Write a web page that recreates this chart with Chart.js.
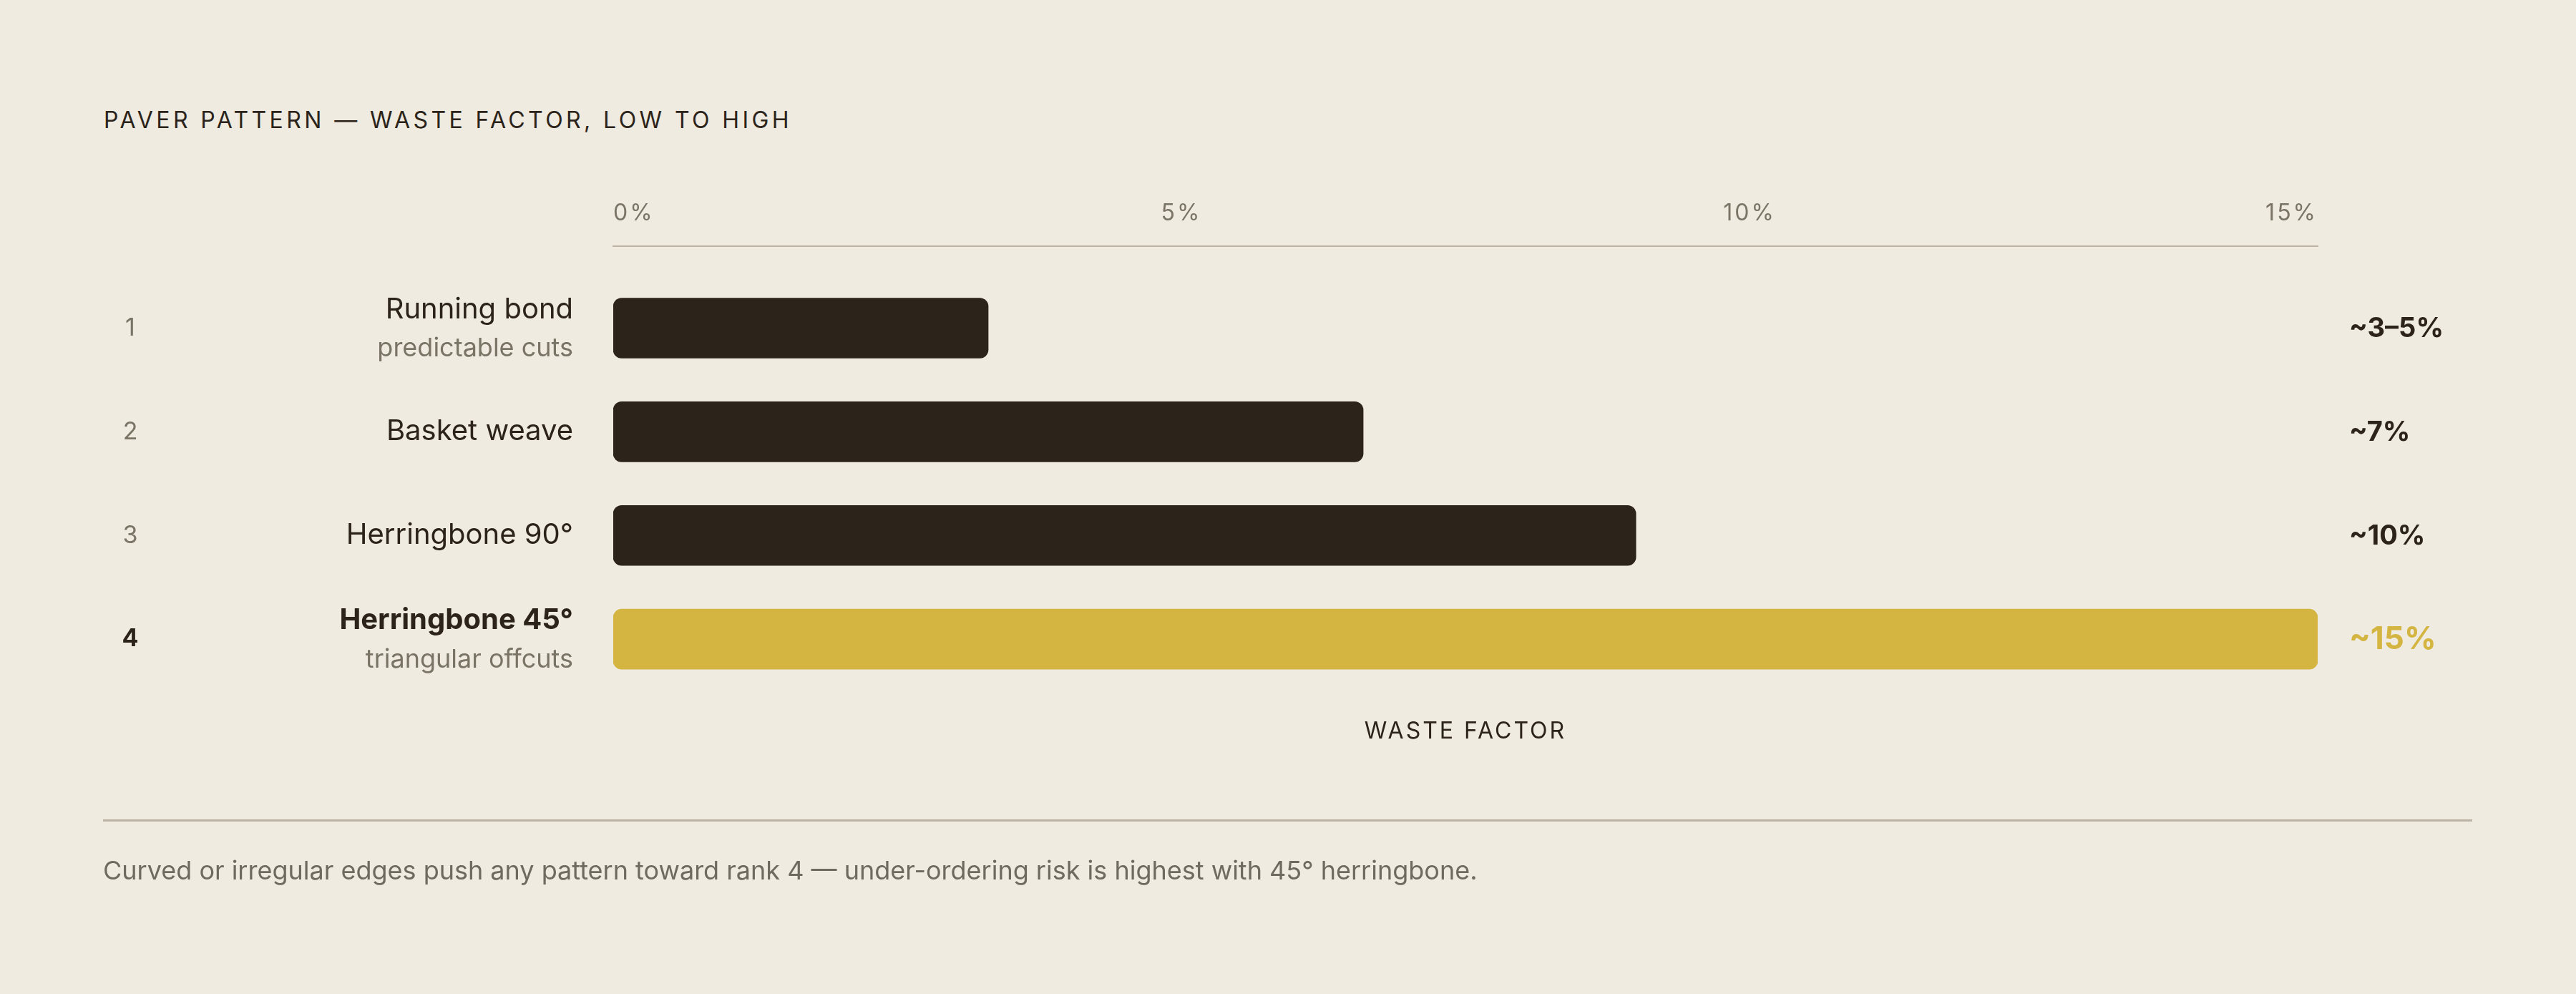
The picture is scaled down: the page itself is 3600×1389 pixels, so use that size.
<!DOCTYPE html>
<html>
<head>
<meta charset="utf-8">
<script src="https://cdn.jsdelivr.net/npm/chart.js@4.4.1/dist/chart.umd.min.js"></script>
<style>
  html, body { margin: 0; padding: 0; background: #efebe0; }
  body { width: 3600px; height: 1389px; position: relative; overflow: hidden; font-family: Inter, "Noto Sans", sans-serif; }
  #title { position: absolute; left: 145px; top: 152px; font-size: 32px; line-height: 32px; letter-spacing: 4.4px; color: #2c241a; white-space: nowrap; }
  #rule { position: absolute; left: 144px; top: 1145px; width: 3311px; height: 3px; background: #bcb3a5; }
  #note { position: absolute; left: 144px; top: 1198px; font-size: 36px; line-height: 36px; color: #6f6a5f; white-space: nowrap; }
  #chart { position: absolute; left: 0; top: 0; }
</style>
</head>
<body>
<div id="title">PAVER PATTERN — WASTE FACTOR, LOW TO HIGH</div>
<canvas id="chart" width="3600" height="1389"></canvas>
<div id="rule"></div>
<div id="note">Curved or irregular edges push any pattern toward rank 4 — under-ordering risk is highest with 45° herringbone.</div>
<script>
// ---- data ----
const categories = ['Running bond', 'Basket weave', 'Herringbone 90°', 'Herringbone 45°'];
const notes = ['predictable cuts', '', '', 'triangular offcuts'];
const ranks = [1, 2, 3, 4];
const wasteValues = [3.3, 6.6, 9, 15];
const valueLabels = ['~3–5%', '~7%', '~10%', '~15%'];
const axisTicks = [0, 5, 10, 15];
const axisTitle = 'WASTE FACTOR';
const highlightRank = 4;

// ---- styles ----
const INK = '#2c241a';
const GOLD = '#d4b542';
const MUTED = '#7a7466';
const LINE = '#bcb3a5';
const FONT = 'Inter, "Noto Sans", sans-serif';

const rowLabels = {
  id: 'rowLabels',
  beforeDraw(chart) { chart.ctx.letterSpacing = '3px'; },
  afterDraw(chart) {
    const { ctx, chartArea, scales } = chart;
    const y = scales.y;
    ctx.save();
    ctx.letterSpacing = '0px';
    ctx.textBaseline = 'middle';
    categories.forEach((name, i) => {
      const cy = y.getPixelForValue(ranks[i]);
      const hi = ranks[i] === highlightRank;
      ctx.textAlign = 'center';
      ctx.font = (hi ? '700' : '400') + ' 34px ' + FONT;
      ctx.fillStyle = hi ? INK : MUTED;
      ctx.fillText(String(ranks[i]), 182, cy);
      ctx.textAlign = 'right';
      const lx = chartArea.left - 56;
      ctx.font = (hi ? '700' : '400') + ' 40px ' + FONT;
      ctx.fillStyle = INK;
      if (notes[i]) {
        ctx.fillText(name, lx, cy - 26);
        ctx.font = '400 36px ' + FONT;
        ctx.fillStyle = MUTED;
        ctx.fillText(notes[i], lx, cy + 29);
      } else {
        ctx.fillText(name, lx, cy);
      }
    });
    const meta = chart.getDatasetMeta(0);
    meta.data.forEach((bar, i) => {
      const hi = ranks[i] === highlightRank;
      ctx.textAlign = 'left';
      ctx.font = '700 ' + (hi ? 44 : 38) + 'px ' + FONT;
      ctx.fillStyle = hi ? GOLD : INK;
      ctx.fillText(valueLabels[i], chartArea.right + 44, bar.y + 1);
    });
    ctx.restore();
  }
};

function build() {
  new Chart(document.getElementById('chart'), {
    type: 'bar',
    data: {
      labels: categories,
      datasets: [{
        data: wasteValues.map((v, i) => ({ x: v, y: ranks[i] })),
        backgroundColor: (c) => ranks[c.dataIndex] === highlightRank ? GOLD : INK,
        borderRadius: 12,
        borderSkipped: false,
        barThickness: 84
      }]
    },
    options: {
      indexAxis: 'y',
      responsive: false,
      devicePixelRatio: 1,
      animation: false,
      events: [],
      layout: { padding: { left: 857, right: 361, top: 264, bottom: 339 } },
      plugins: { legend: { display: false }, tooltip: { enabled: false }, title: { display: false } },
      scales: {
        x: {
          type: 'linear', position: 'top', min: 0, max: 15,
          afterFit: (s) => { s.height = 80; },
          afterBuildTicks: (s) => { s.ticks = axisTicks.map(v => ({ value: v })); },
          grid: { display: false, drawTicks: false, tickLength: 0 },
          border: { display: true, color: LINE, width: 2 },
          ticks: {
            align: 'inner', padding: 26, color: MUTED,
            font: { family: FONT, size: 32 },
            callback: (v) => v + '%'
          }
        },
        x2: {
          type: 'linear', position: 'bottom', min: 0, max: 15,
          afterFit: (s) => { s.height = 80; },
          grid: { display: false, drawTicks: false },
          border: { display: false },
          ticks: { display: false },
          title: { display: true, text: axisTitle, color: INK, font: { family: FONT, size: 32 }, padding: { top: 0, bottom: 8 } }
        },
        y: {
          type: 'linear', reverse: true, min: 0.21, max: 4.53, offset: false, display: false,
          grid: { offset: false }
        }
      }
    },
    plugins: [rowLabels]
  });
}
(document.fonts ? Promise.all([document.fonts.load('40px Inter'), document.fonts.load('700 40px Inter')]).catch(()=>{}) : Promise.resolve()).then(build);
</script>
</body>
</html>
